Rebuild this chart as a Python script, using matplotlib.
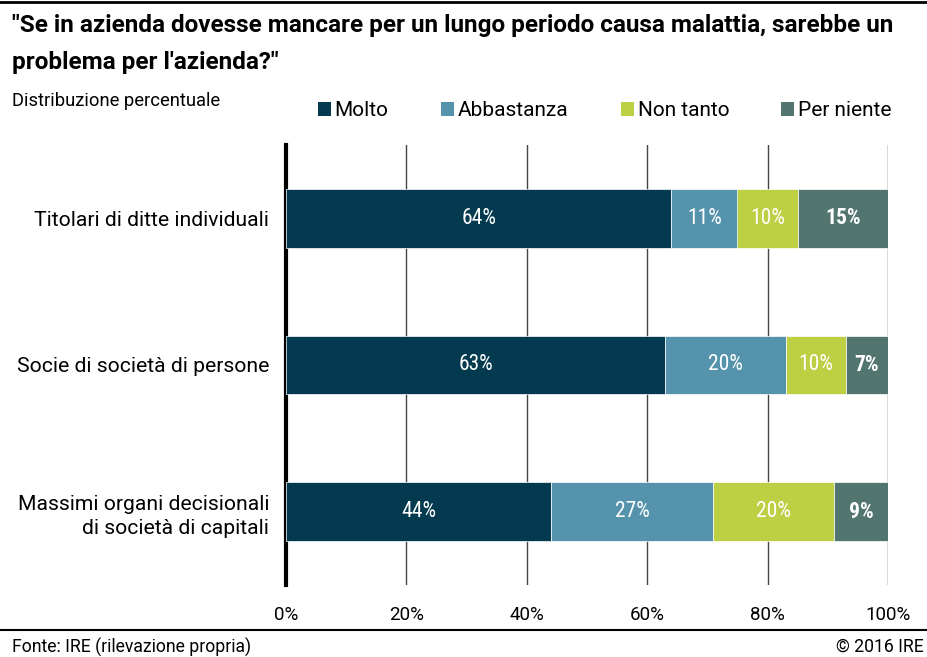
import matplotlib.pyplot as plt
import numpy as np
from matplotlib.patches import Patch
from matplotlib.lines import Line2D

plt.rcParams['font.family'] = ['Roboto', 'DejaVu Sans']

# Survey results, one row per group (percent)
categories = ["Titolari di ditte individuali",
              "Socie di società di persone",
              "Massimi organi decisionali\ndi società di capitali"]
series = ["Molto", "Abbastanza", "Non tanto", "Per niente"]
molto = [64, 63, 44]
abbastanza = [11, 20, 27]
non_tanto = [10, 10, 20]
per_niente = [15, 7, 9]
xticks = [0, 20, 40, 60, 80, 100]

colors = ["#033a4f", "#5592ab", "#bdcf43", "#537570"]
values = [molto, abbastanza, non_tanto, per_niente]

fig = plt.figure(figsize=(9.28, 6.57), dpi=100)
ax = fig.add_axes([286 / 928, 1 - 585 / 657, 602 / 928, 440 / 657])

y = np.arange(len(categories))
left = np.zeros(len(categories))
for i, (name, vals) in enumerate(zip(series, values)):
    bars = ax.barh(y, vals, left=left, height=0.4, color=colors[i],
                   edgecolor="white", linewidth=0.5, label=name, zorder=3)
    for b, v in zip(bars, vals):
        ax.text(b.get_x() + b.get_width() / 2, b.get_y() + b.get_height() / 2,
                f"{v}%", ha="center", va="center", color="white", fontsize=15.5,
                family=["Roboto Condensed", "DejaVu Sans"],
                fontweight="bold" if name == "Per niente" else "normal", zorder=4)
    left += np.array(vals)

ax.set_xlim(0, 100)
ax.set_ylim(2.5, -0.5)
ax.set_xticks(xticks)
ax.set_xticklabels([f"{t}%" for t in xticks], fontsize=13.5)
ax.set_yticks(y)
ax.set_yticklabels(categories, fontsize=15.2, linespacing=1.35)
ax.tick_params(axis="x", length=0, pad=15)
ax.tick_params(axis="y", length=0, pad=12)
for t in xticks[1:]:
    ax.axvline(t, color="#444444", linewidth=1, zorder=1)
for s in ["top", "right", "bottom"]:
    ax.spines[s].set_visible(False)
ax.spines["left"].set_linewidth(3)
ax.spines["left"].set_color("black")

# Title, subtitle and footer
fig.add_artist(Line2D([0, 1], [1 - 2 / 657] * 2, color="black", linewidth=2))
fig.text(12 / 928, 1 - 44 / 657, "\"Se in azienda dovesse mancare per un lungo periodo causa malattia, sarebbe un\nproblema per l'azienda?\"",
         fontsize=17.5, fontweight="bold", va="center", ha="left", linespacing=1.78)
fig.text(12 / 928, 1 - 101 / 657, "Distribuzione percentuale", fontsize=13.2, va="center")
fig.add_artist(Line2D([0, 1], [1 - 630 / 657] * 2, color="black", linewidth=1.5))
fig.text(12 / 928, 1 - 647 / 657, "Fonte: IRE (rilevazione propria)", fontsize=12.7, va="center")
fig.text(924 / 928, 1 - 647 / 657, "© 2016 IRE", fontsize=12.7, va="center", ha="right")

handles = [Patch(facecolor=c, label=s) for c, s in zip(colors, series)]
fig.legend(handles=handles, loc="center right", bbox_to_anchor=(892 / 928, 1 - 111 / 657),
           ncol=4, frameon=False, fontsize=15, handlelength=0.62, handleheight=0.62,
           handletextpad=0.2, columnspacing=2.5, borderaxespad=0, borderpad=0)

fig.savefig("out.png", dpi=100)
